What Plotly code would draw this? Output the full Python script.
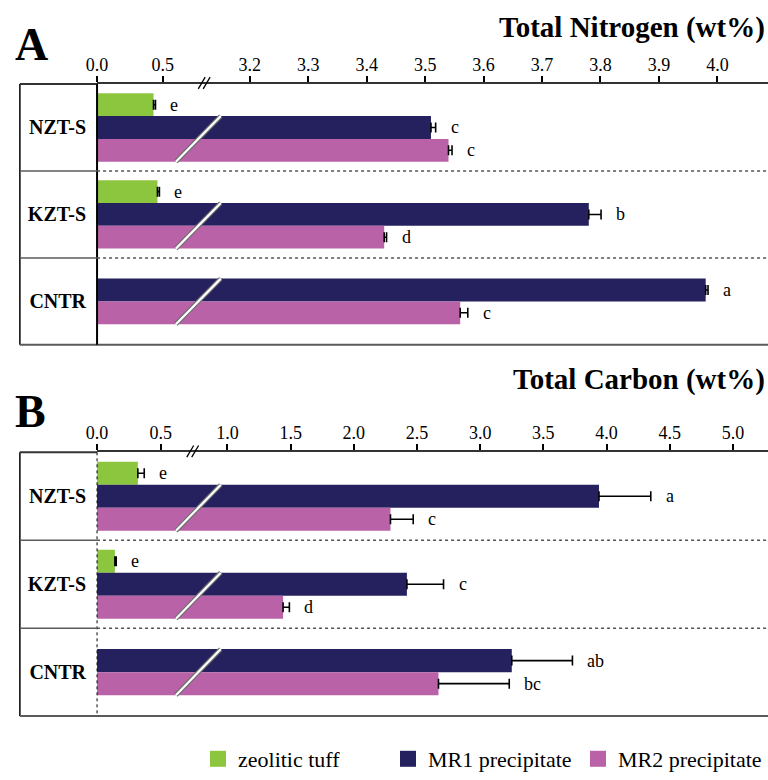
import plotly.graph_objects as go

# ---------------- data ----------------
categories = ["NZT-S", "KZT-S", "CNTR"]
series_names = ["zeolitic tuff", "MR1 precipitate", "MR2 precipitate"]
series_colors = ["#8CC63F", "#25215E", "#B962A7"]

# Total Nitrogen (wt%)
tn_zeolite = [0.43, 0.46, None]
tn_zeolite_err = [0.015, 0.015, None]
tn_mr1 = [3.51, 3.78, 3.98]
tn_mr1_err = [0.008, 0.021, 0.004]
tn_mr2 = [3.54, 3.43, 3.56]
tn_mr2_err = [0.006, 0.004, 0.013]
tn_letters_zeolite = ["e", "e", None]
tn_letters_mr1 = ["c", "b", "a"]
tn_letters_mr2 = ["c", "d", "c"]
tn_ticks = [0.0, 0.5, 3.2, 3.3, 3.4, 3.5, 3.6, 3.7, 3.8, 3.9, 4.0]

# Total Carbon (wt%)
tc_zeolite = [0.32, 0.14, None]
tc_zeolite_err = [0.05, 0.01, None]
tc_mr1 = [3.94, 2.42, 3.25]
tc_mr1_err = [0.41, 0.29, 0.48]
tc_mr2 = [2.29, 1.44, 2.67]
tc_mr2_err = [0.18, 0.05, 0.56]
tc_letters_zeolite = ["e", "e", None]
tc_letters_mr1 = ["a", "c", "ab"]
tc_letters_mr2 = ["c", "d", "bc"]
tc_ticks = [0.0, 0.5, 1.0, 1.5, 2.0, 2.5, 3.0, 3.5, 4.0, 4.5, 5.0]

# ---------------- layout helpers ----------------
W, H = 768, 780
FONT = "Liberation Serif"
X0_PX = 87.3          # pixel of value 0 (left edge of plot)


def px(xp):
    return xp / W


def py(yp):
    return 1 - yp / H


def make_scale(k_low, low_end, high_start, k_high):
    d_break = low_end * k_low

    def f(v):
        if v <= low_end:
            return v * k_low
        return d_break + (v - high_start) * k_high
    return f, d_break


scale_A, break_A = make_scale(133.2, 0.816, 3.122, 593.0)
scale_B, break_B = make_scale(129.4, 0.75, 0.725, 128.2)

panels = [
    dict(name="A", title="Total Nitrogen (wt%)", scale=scale_A, brk=break_A,
         top=86, bottom=353, ticks=tn_ticks,
         vals=[tn_zeolite, tn_mr1, tn_mr2], errs=[tn_zeolite_err, tn_mr1_err, tn_mr2_err],
         letters=[tn_letters_zeolite, tn_letters_mr1, tn_letters_mr2],
         letter_y=46, title_y=28, right_dash=False),
    dict(name="B", title="Total Carbon (wt%)", scale=scale_B, brk=break_B,
         top=463, bottom=733, ticks=tc_ticks,
         vals=[tc_zeolite, tc_mr1, tc_mr2], errs=[tc_zeolite_err, tc_mr1_err, tc_mr2_err],
         letters=[tc_letters_zeolite, tc_letters_mr1, tc_letters_mr2],
         letter_y=421, title_y=388, right_dash=True),
]

BAR_W = 0.262
fig = go.Figure()
shapes = []
annotations = []

for pi, P in enumerate(panels):
    xa = "x" if pi == 0 else "x2"
    ya = "y" if pi == 0 else "y2"
    f = P["scale"]
    # bar positions inside each category band
    positions = [[None] * len(categories) for _ in series_names]
    for ci in range(len(categories)):
        present = [si for si in range(len(series_names)) if P["vals"][si][ci] is not None]
        n = len(present)
        for k, si in enumerate(present):
            positions[si][ci] = ci + (k - (n - 1) / 2) * BAR_W

    for si, sname in enumerate(series_names):
        xs, ys, ep = [], [], []
        for ci in range(len(categories)):
            v = P["vals"][si][ci]
            if v is None:
                continue
            e = P["errs"][si][ci]
            xs.append(f(v))
            ys.append(positions[si][ci])
            ep.append(f(v + e) - f(v))
            annotations.append(dict(
                x=f(v + e), y=positions[si][ci], xref=xa, yref=ya,
                text=P["letters"][si][ci], showarrow=False, xanchor="left",
                yanchor="middle", xshift=13,
                font=dict(family=FONT, size=18, color="black")))
        fig.add_trace(go.Bar(
            x=xs, y=ys, base=0, orientation="h", width=BAR_W,
            marker=dict(color=series_colors[si], line=dict(width=0)),
            error_x=dict(type="data", array=ep, arrayminus=[0] * len(ep),
                         symmetric=False, color="black", thickness=1.6, width=5),
            showlegend=False, xaxis=xa, yaxis=ya, name=sname))

    # slash on the long bars (break indicator)
    for ci in range(len(categories)):
        y_top = positions[1][ci] - BAR_W / 2
        y_bot = positions[2][ci] + BAR_W / 2
        for col, wd in (("#6E6E6E", 4.5), ("white", 2.2)):
            shapes.append(dict(type="line", xref=xa, yref=ya,
                               x0=80.0, x1=125.5, y0=y_bot, y1=y_top,
                               line=dict(color=col, width=wd), layer="above"))

    top, bot = P["top"], P["bottom"]
    # axis break marks "//"
    bx = X0_PX + P["brk"]
    for dx in (-2.5, 2.5):
        shapes.append(dict(type="line", xref="paper", yref="paper",
                           x0=px(bx + dx - 3.5), y0=py(top + 5),
                           x1=px(bx + dx + 3.5), y1=py(top - 7),
                           line=dict(color="black", width=1.3), layer="above"))
    # left label box
    grey = "#5A5A5A"
    shapes.append(dict(type="line", xref="paper", yref="paper", x0=px(9), x1=px(9),
                       y0=py(top), y1=py(bot), line=dict(color="black", width=1.5)))
    shapes.append(dict(type="line", xref="paper", yref="paper", x0=px(9), x1=px(X0_PX),
                       y0=py(top), y1=py(top), line=dict(color="#333", width=2)))
    shapes.append(dict(type="line", xref="paper", yref="paper", x0=px(9), x1=1,
                       y0=py(bot), y1=py(bot), line=dict(color=grey, width=2)))
    if P["right_dash"]:
        shapes.append(dict(type="line", xref="paper", yref="paper", x0=px(X0_PX), x1=px(X0_PX),
                           y0=py(top), y1=py(bot), line=dict(color="black", width=1, dash="dot"),
                           layer="above"))
    else:
        shapes.append(dict(type="line", xref="paper", yref="paper", x0=px(X0_PX), x1=px(X0_PX),
                           y0=py(top), y1=py(bot), line=dict(color="black", width=2), layer="above"))
    for sep in (0.5, 1.5):
        shapes.append(dict(type="line", xref="paper", yref=ya, x0=px(9), x1=px(X0_PX),
                           y0=sep, y1=sep, line=dict(color=grey, width=1.5)))
        shapes.append(dict(type="line", xref="paper", yref=ya, x0=px(X0_PX), x1=1,
                           y0=sep, y1=sep, line=dict(color="#555", width=1.5, dash="dot")))

    annotations.append(dict(x=px(2), y=py(P["letter_y"]), xref="paper", yref="paper",
                            text="<b>%s</b>" % P["name"], showarrow=False,
                            xanchor="left", yanchor="middle",
                            font=dict(family=FONT, size=46, color="black")))
    annotations.append(dict(x=px(767), y=py(P["title_y"]), xref="paper", yref="paper",
                            text="<b>%s</b>" % P["title"], showarrow=False,
                            xanchor="right", yanchor="middle",
                            font=dict(family=FONT, size=29, color="black")))

    xaxis = dict(domain=[px(X0_PX), 1], range=[0, W - X0_PX], side="top", anchor=ya,
                 tickvals=[f(t) for t in P["ticks"]], ticktext=["%.1f" % t for t in P["ticks"]],
                 ticks="outside", ticklen=6, tickwidth=1.5, tickcolor="black",
                 ticklabelstandoff=-2,
                 showline=True, linecolor="#333", linewidth=2, showgrid=False, zeroline=False,
                 tickfont=dict(family=FONT, size=18, color="black"), fixedrange=True)
    yaxis = dict(domain=[py(bot), py(top)], range=[2.5, -0.5], anchor=xa,
                 tickvals=list(range(len(categories))),
                 ticktext=["<b>%s</b>" % c for c in categories],
                 ticks="", showline=False, showgrid=False, zeroline=False,
                 ticklabelstandoff=10,
                 tickfont=dict(family=FONT, size=20, color="black"), fixedrange=True)
    if pi == 0:
        fig.update_layout(xaxis=xaxis, yaxis=yaxis)
    else:
        fig.update_layout(xaxis2=xaxis, yaxis2=yaxis)

# legend entries
for si, sname in enumerate(series_names):
    fig.add_trace(go.Scatter(x=[None], y=[None], mode="markers", name=sname,
                             marker=dict(symbol="square", size=21, color=series_colors[si]),
                             showlegend=True))

fig.update_layout(
    width=W, height=H, margin=dict(l=0, r=0, t=0, b=0),
    plot_bgcolor="white", paper_bgcolor="white",
    barmode="overlay", shapes=shapes, annotations=annotations,
    legend=dict(orientation="h", x=1, xanchor="right", y=py(777), yanchor="middle",
                font=dict(family=FONT, size=22, color="black"),
                entrywidth=145, itemsizing="trace", bgcolor="rgba(0,0,0,0)"),
    font=dict(family=FONT, color="black"),
)

fig.write_html("out.html")
